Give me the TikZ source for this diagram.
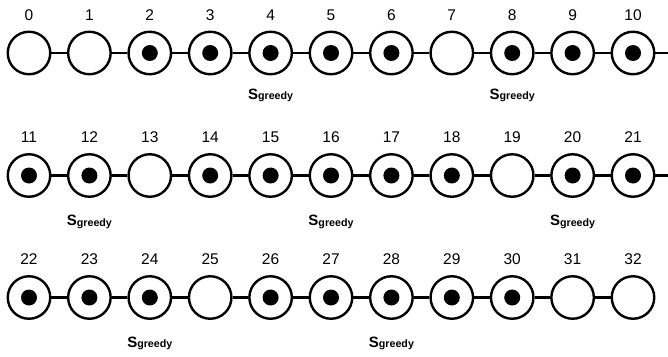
\documentclass[tikz,border=0pt]{standalone}
\usepackage{fontspec}
\setmainfont{Liberation Sans}
\begin{document}
\begin{tikzpicture}[x=1pt,y=-1pt,
  vtx/.style={circle,draw,line width=2.4pt,minimum size=42.5pt,inner sep=0pt},
  dotmark/.style={circle,fill,minimum size=16pt,inner sep=0pt},
  edge/.style={line width=2.4pt},
  num/.style={font=\fontsize{15.5}{16}\selectfont,inner sep=0pt},
  sg/.style={inner sep=0pt,anchor=base,font=\bfseries}]
\useasboundingbox (0,0) rectangle (668,356);
\foreach \r/\y in {0/53,1/175.5,2/297.5} {
  \foreach \c in {0,...,10} {
    \pgfmathtruncatemacro\n{\r*11+\c}
    \node[vtx] (n\n) at ({29+60.4*\c},\y) {};
    \node[num] (l\n) at ({29+60.4*\c},{\y-38}) {\n};
  }
}
\foreach \i in {2,3,4,5,6,8,9,10,11,12,14,15,16,17,18,20,21,22,23,24,26,27,28,29,30}
  \node[dotmark] (d\i) at (n\i) {};
\foreach \r in {0,1,2} {
  \foreach \c in {0,...,9} {
    \pgfmathtruncatemacro\a{\r*11+\c}
    \pgfmathtruncatemacro\b{\r*11+\c+1}
    \draw[edge] (n\a) -- (n\b);
  }
}
\coordinate (e1) at (668,53);
\coordinate (e2) at (668,175.5);
\draw[edge] (n10) -- (e1);
\draw[edge] (n21) -- (e2);
\foreach \i/\yb in {4/99,8/99,12/225.5,16/225.5,20/225.5,24/347,28/347}
  \node[sg] (s\i) at (n\i.center |- 0,\yb) {\fontsize{15}{15}\selectfont S\raisebox{-0.5pt}{\fontsize{10.7}{11}\selectfont greedy}};
\end{tikzpicture}
\end{document}
